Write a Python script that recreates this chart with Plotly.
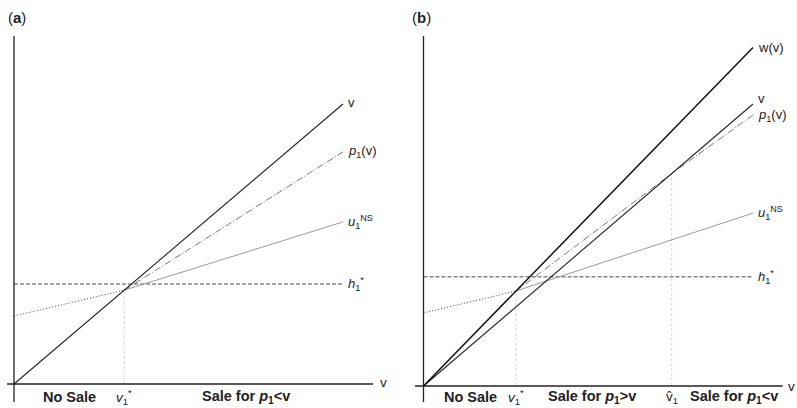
import plotly.graph_objects as go

# ---------------- data (abstract units, v line is y = x) ----------------
# Panel (a)
a_v_x = [0, 10]
a_v_y = [0, 10]
a_vstar = 3.35
a_h = 3.57
a_u_dot_x = [0, 3.35]
a_u_dot_y = [2.43, 3.35]
a_u_sol_x = [3.35, 10]
a_u_sol_y = [3.35, 5.79]
a_p_x = [3.35, 10]
a_p_y = [3.35, 8.29]

# Panel (b)
b_w_x = [0, 10]
b_w_y = [0, 12]
b_v_x = [0, 10]
b_v_y = [0, 10]
b_vstar = 2.81
b_vhat = 7.53
b_h = 3.87
b_u_dot_x = [0, 2.81]
b_u_dot_y = [2.59, 3.37]
b_u_sol_x = [2.81, 10]
b_u_sol_y = [3.37, 6.13]
b_p_x = [2.81, 7.53, 10]
b_p_y = [3.37, 7.53, 9.61]

FONT = "Liberation Sans, Arial, sans-serif"
W, H = 797, 408

fig = go.Figure()

def line(x, y, xa, ya, color, width, dash="solid"):
    fig.add_trace(go.Scatter(x=x, y=y, mode="lines", xaxis=xa, yaxis=ya,
                             line=dict(color=color, width=width, dash=dash),
                             hoverinfo="skip", showlegend=False))

DASH_H = "4px,2px"
DASH_P = "7px,2px,1px,2px"
DOT_U = "1px,2px"
GUIDE = "3px,2px"

# ---- panel (a) ----
line([a_vstar, a_vstar], [0, a_vstar], "x", "y", "#cfcfcf", 0.8, GUIDE)
line([0, 10], [a_h, a_h], "x", "y", "#333333", 0.9, DASH_H)
line(a_u_dot_x, a_u_dot_y, "x", "y", "#444444", 1.0, DOT_U)
line(a_u_sol_x, a_u_sol_y, "x", "y", "#9a9a9a", 1.0)
line(a_p_x, a_p_y, "x", "y", "#555555", 0.8, DASH_P)
line(a_v_x, a_v_y, "x", "y", "#222222", 1.1)

# ---- panel (b) ----
line([b_vstar, b_vstar], [0, b_vstar * 1.2], "x2", "y2", "#cfcfcf", 0.8, GUIDE)
line([b_vhat, b_vhat], [0, b_vhat], "x2", "y2", "#cfcfcf", 0.8, GUIDE)
line([0, 10], [b_h, b_h], "x2", "y2", "#333333", 0.9, DASH_H)
line(b_u_dot_x, b_u_dot_y, "x2", "y2", "#444444", 1.0, DOT_U)
line(b_u_sol_x, b_u_sol_y, "x2", "y2", "#9a9a9a", 1.0)
line(b_p_x, b_p_y, "x2", "y2", "#555555", 0.8, DASH_P)
line(b_v_x, b_v_y, "x2", "y2", "#222222", 1.1)
line(b_w_x, b_w_y, "x2", "y2", "#111111", 1.5)

# axes lines (as shapes in data coords)
shapes = []
for xr, yr, xmin, xmax, ymin, ymax in [("x", "y", -0.21, 10.91, -0.64, 12.43),
                                        ("x2", "y2", -0.26, 10.9, -0.57, 12.41)]:
    shapes.append(dict(type="line", xref=xr, yref=yr, x0=0, x1=0, y0=ymin, y1=ymax,
                       line=dict(color="#222222", width=1.3)))
    shapes.append(dict(type="line", xref=xr, yref=yr, x0=xmin, x1=xmax, y0=0, y1=0,
                       line=dict(color="#222222", width=1.3)))

ann = []
def text(x, y, s, xr, yr, size=13, xanchor="left", yanchor="middle"):
    ann.append(dict(x=x, y=y, xref=xr, yref=yr, text=s, showarrow=False,
                    xanchor=xanchor, yanchor=yanchor,
                    font=dict(family=FONT, size=size, color="#222222")))

P1 = "<i>p</i><sub>1</sub>(v)"
U1 = "<i>u</i><sub>1</sub><sup>NS</sup>"
H1 = "<i>h</i><sub>1</sub><sup>*</sup>"
V1 = "<i>v</i><sub>1</sub><sup>*</sup>"
BIG = 14.5

# panel (a) labels
text(10.1, 10.05, "v", "x", "y")
text(10.1, a_p_y[-1], P1, "x", "y")
text(10.1, a_u_sol_y[-1], U1, "x", "y")
text(10.1, a_h, H1, "x", "y")
text(11.05, 0.05, "v", "x", "y", size=13.5)
text(1.70, -0.46, "<b>No Sale</b>", "x", "y", size=BIG, xanchor="center")
text(a_vstar, -0.46, V1, "x", "y", size=13.5, xanchor="center")
text(7.05, -0.46, "<b>Sale for <i>p</i><sub>1</sub>&lt;v</b>", "x", "y", size=BIG, xanchor="center")

# panel (b) labels
text(10.1, 12.0, "w(v)", "x2", "y2")
text(10.1, 10.2, "v", "x2", "y2")
text(10.1, b_p_y[-1], P1, "x2", "y2")
text(10.1, b_u_sol_y[-1], U1, "x2", "y2")
text(10.1, b_h, H1, "x2", "y2")
text(11.0, 0.0, "v", "x2", "y2", size=13.5)
text(1.44, -0.39, "<b>No Sale</b>", "x2", "y2", size=BIG, xanchor="center")
text(b_vstar, -0.39, V1, "x2", "y2", size=13.5, xanchor="center")
text(5.11, -0.39, "<b>Sale for <i>p</i><sub>1</sub>&gt;v</b>", "x2", "y2", size=BIG, xanchor="center")
text(b_vhat, -0.39, "v\u0302<sub>1</sub>", "x2", "y2", size=13.5, xanchor="center")
text(9.42, -0.39, "<b>Sale for <i>p</i><sub>1</sub>&lt;v</b>", "x2", "y2", size=BIG, xanchor="center")

# panel titles
ann.append(dict(x=6 / W, y=1 - 18 / H, xref="paper", yref="paper", text="(<b>a</b>)",
                showarrow=False, xanchor="left", yanchor="middle",
                font=dict(family=FONT, size=15, color="#222222")))
ann.append(dict(x=410 / W, y=1 - 18 / H, xref="paper", yref="paper", text="(<b>b</b>)",
                showarrow=False, xanchor="left", yanchor="middle",
                font=dict(family=FONT, size=15, color="#222222")))

ax_common = dict(visible=False, showgrid=False, zeroline=False, fixedrange=True)
fig.update_layout(
    width=W, height=H,
    margin=dict(l=0, r=0, t=0, b=0),
    paper_bgcolor="white", plot_bgcolor="white",
    xaxis=dict(domain=[0, 398 / W], range=[-14 / 32.9, 384 / 32.9], **ax_common),
    yaxis=dict(domain=[0, 1], range=[-24 / 28.0, 384 / 28.0], **ax_common),
    xaxis2=dict(domain=[398 / W, 1], range=[-25.5 / 32.95, 373.5 / 32.95], anchor="y2", **ax_common),
    yaxis2=dict(domain=[0, 1], range=[-22 / 28.2, 386 / 28.2], anchor="x2", **ax_common),
    shapes=shapes, annotations=ann,
)

fig.write_html("out.html", config={"displayModeBar": False},
               post_script="document.body.style.margin='0px';document.body.style.overflow='hidden';")
